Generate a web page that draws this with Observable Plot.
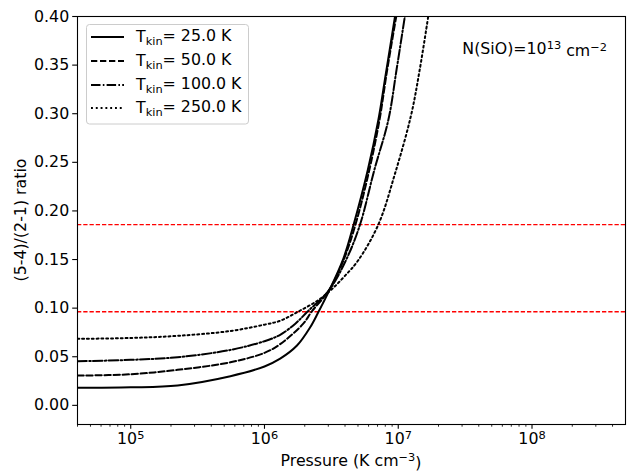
<!DOCTYPE html>
<html>
<head>
<meta charset="utf-8">
<script src="https://cdn.jsdelivr.net/npm/d3@7"></script>
<script src="https://cdn.jsdelivr.net/npm/@observablehq/plot@0.6"></script>
<style>
  html, body { margin: 0; padding: 0; background: #fff; }
  #chart { width: 628px; height: 471px; }
</style>
</head>
<body>
<div id="chart"></div>
<script>
// ---- data ----
const seriesLabels = ["25.0", "50.0", "100.0", "250.0"];

const p25 = [4.0e4, 1.0e5, 2.24e5, 5.56e5, 1.0e6, 1.31e6, 1.75e6, 2.19e6, 2.53e6, 3.02e6, 3.89e6, 4.62e6, 5.92e6, 7.10e6, 8.05e6, 9.46e6];
const r25 = [0.018, 0.0185, 0.0205, 0.030, 0.040, 0.048, 0.0615, 0.080, 0.096, 0.117, 0.151, 0.185, 0.242, 0.2935, 0.340, 0.40];

const p50 = [4.0e4, 1.0e5, 2.24e5, 5.56e5, 1.0e6, 1.31e6, 1.95e6, 2.25e6, 3.02e6, 3.89e6, 4.79e6, 6.03e6, 7.24e6, 8.22e6, 9.66e6];
const r50 = [0.0306, 0.032, 0.0365, 0.0443, 0.054, 0.063, 0.084, 0.0963, 0.118, 0.149, 0.186, 0.240, 0.2935, 0.343, 0.40];

const p100 = [4.0e4, 1.0e5, 2.24e5, 5.56e5, 1.0e6, 1.31e6, 1.70e6, 2.09e6, 3.02e6, 4.12e6, 5.18e6, 6.62e6, 8.43e6, 9.73e6, 1.12e7];
const r100 = [0.0454, 0.0468, 0.0495, 0.057, 0.066, 0.0726, 0.084, 0.0963, 0.118, 0.151, 0.186, 0.242, 0.2935, 0.346, 0.40];

const p250 = [4.0e4, 1.0e5, 2.24e5, 5.56e5, 1.0e6, 1.31e6, 1.78e6, 2.51e6, 3.16e6, 3.98e6, 5.01e6, 7.10e6, 9.44e6, 1.245e7, 1.45e7, 1.675e7];
const r250 = [0.0684, 0.0693, 0.0715, 0.0765, 0.083, 0.087, 0.0963, 0.108, 0.119, 0.133, 0.149, 0.186, 0.238, 0.298, 0.346, 0.40];

const redLevels = [0.186, 0.0963];

const yTicks = [0.00, 0.05, 0.10, 0.15, 0.20, 0.25, 0.30, 0.35, 0.40];
const xMajorTicks = [1e5, 1e6, 1e7, 1e8];
const xMajorExp = ["5", "6", "7", "8"];
const xMinorTicks = [4e4, 5e4, 6e4, 7e4, 8e4, 9e4,
  2e5, 3e5, 4e5, 5e5, 6e5, 7e5, 8e5, 9e5,
  2e6, 3e6, 4e6, 5e6, 6e6, 7e6, 8e6, 9e6,
  2e7, 3e7, 4e7, 5e7, 6e7, 7e7, 8e7, 9e7,
  2e8, 3e8, 4e8];

const xDomain = [4.0e4, 5.0e8];
const yDomain = [-0.0197, 0.40];

// ---- build ----
const toRows = (ps, rs) => ps.map((p, i) => ({p, r: rs[i]}));
const styles = [
  {dash: null},
  {dash: "6.3,2.7"},
  {dash: "9.5,2.3,1.6,2.2"},
  {dash: "1.9,2.9"}
];
const allSeries = [[p25, r25], [p50, r50], [p100, r100], [p250, r250]];

const FONT = "DejaVu Sans";
const FS = 15.8;
const plot = Plot.plot({
  width: 628,
  height: 471,
  marginLeft: 77,
  marginRight: 3,
  marginTop: 16,
  marginBottom: 47,
  style: {fontFamily: FONT, fontSize: FS + "px", color: "black", background: "white", overflow: "visible"},
  x: {type: "log", domain: xDomain},
  y: {domain: yDomain},
  marks: [
    Plot.axisY({ticks: yTicks, tickFormat: d3.format(".2f"), tickSize: 4.8, tickPadding: 3.5, label: null, stroke: "black", strokeWidth: 1.1, fontSize: FS}),
    Plot.axisX({ticks: xMinorTicks, tickFormat: () => "", tickSize: 2.7, label: null, stroke: "black", strokeWidth: 0.85}),
    Plot.axisX({ticks: xMajorTicks, tickFormat: d => "10", tickSize: 4.8, tickPadding: 3.5, label: null, stroke: "black", strokeWidth: 1.1, fontSize: FS}),
    Plot.ruleY(redLevels, {stroke: "red", strokeWidth: 1.3, strokeDasharray: "4.3,1.95"}),
    ...allSeries.map(([ps, rs], i) => Plot.line(toRows(ps, rs), {
      x: "p", y: "r", stroke: "black", strokeWidth: 2,
      strokeDasharray: styles[i].dash, curve: "catmull-rom", clip: true
    })),
    Plot.frame({stroke: "black", strokeWidth: 1.1})
  ]
});
document.getElementById("chart").appendChild(plot);

const svg = d3.select(plot);

// superscripts on the major x tick labels; drop empty minor labels
let k = 0;
svg.selectAll('g[aria-label="x-axis tick label"] text').each(function() {
  const t = d3.select(this);
  if (this.textContent.trim() === "") { t.remove(); return; }
  const exp = xMajorExp[k++];
  t.text("10");
  t.append("tspan").attr("dy", "-0.42em").attr("font-size", "0.72em").text(exp);
});

// axis titles
svg.append("text")
  .attr("x", 351).attr("y", 466)
  .attr("text-anchor", "middle")
  .attr("font-family", FONT).attr("font-size", FS).attr("fill", "black")
  .call(t => {
    t.append("tspan").text("Pressure (K cm");
    t.append("tspan").attr("dy", "-0.45em").attr("font-size", "0.72em").text("\u22123");
    t.append("tspan").attr("dy", "0.45em").text(")");
  });

svg.append("text")
  .attr("transform", "translate(26,220) rotate(-90)")
  .attr("text-anchor", "middle")
  .attr("font-family", FONT).attr("font-size", FS).attr("fill", "black")
  .text("(5-4)/(2-1) ratio");

// annotation
svg.append("text")
  .attr("x", 607).attr("y", 54)
  .attr("text-anchor", "end")
  .attr("font-family", FONT).attr("font-size", FS).attr("fill", "black")
  .call(t => {
    t.append("tspan").text("N(SiO)=10");
    t.append("tspan").attr("dy", "-0.45em").attr("font-size", "0.72em").text("13");
    t.append("tspan").attr("dy", "0.45em").text(" cm");
    t.append("tspan").attr("dy", "-0.45em").attr("font-size", "0.72em").text("\u22122");
  });

// legend
const lg = svg.append("g");
lg.append("rect")
  .attr("x", 86.5).attr("y", 24.5).attr("width", 162).attr("height", 99.5)
  .attr("rx", 3).attr("fill", "white").attr("fill-opacity", 0.8)
  .attr("stroke", "#cccccc").attr("stroke-width", 1);
const rowY = [37, 61, 85, 108];
seriesLabels.forEach((lab, i) => {
  lg.append("line")
    .attr("x1", 91).attr("x2", 124).attr("y1", rowY[i]).attr("y2", rowY[i])
    .attr("stroke", "black").attr("stroke-width", 2)
    .attr("stroke-dasharray", styles[i].dash);
  const t = lg.append("text")
    .attr("x", 136).attr("y", rowY[i] + 5)
    .attr("text-anchor", "start")
    .attr("font-family", FONT).attr("font-size", FS).attr("fill", "black");
  t.append("tspan").text("T");
  t.append("tspan").attr("dy", "0.3em").attr("font-size", "0.72em").text("kin");
  t.append("tspan").attr("dy", "-0.3em").text("= " + lab + " K");
});
</script>
</body>
</html>
